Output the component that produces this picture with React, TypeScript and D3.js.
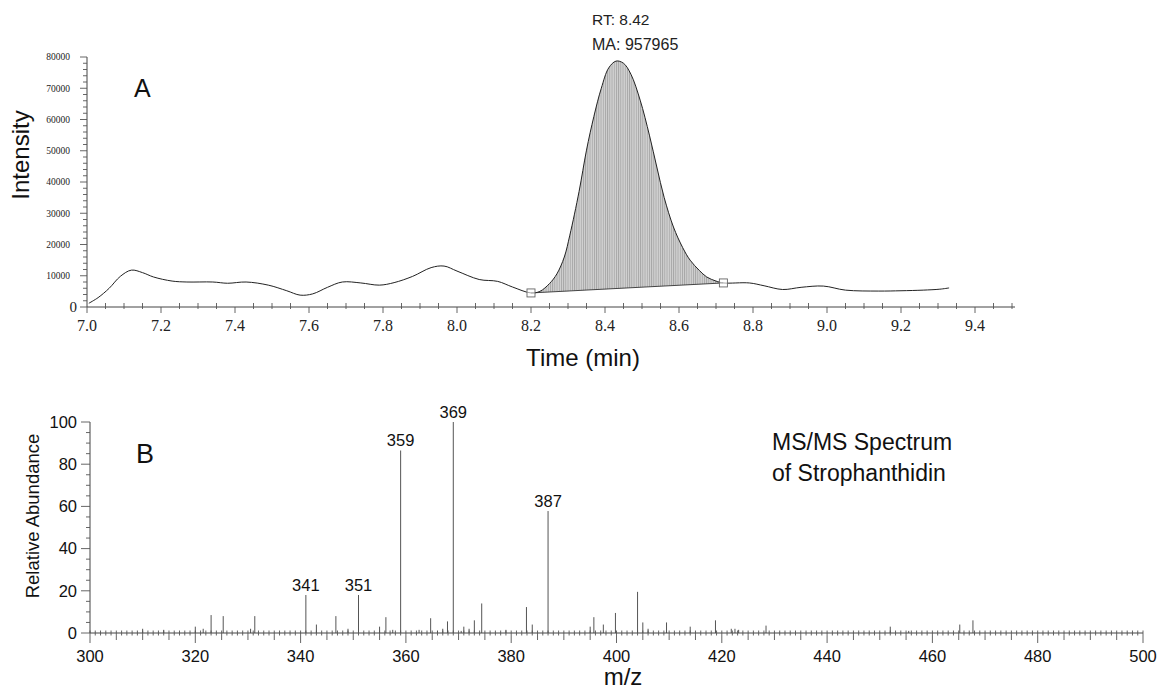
import React from 'react';
import * as d3 from 'd3';

// chromatogram (panel A)
const chromTime = [7.005, 7.03, 7.06, 7.09, 7.12, 7.15, 7.18, 7.23, 7.27, 7.34, 7.38, 7.43, 7.49, 7.54, 7.576, 7.61, 7.65, 7.69, 7.74, 7.79, 7.83, 7.88, 7.93, 7.965, 8.0, 8.06, 8.11, 8.15, 8.2, 8.224, 8.25, 8.27, 8.29, 8.305, 8.33, 8.35, 8.37, 8.39, 8.41, 8.43, 8.45, 8.47, 8.495, 8.52, 8.54, 8.56, 8.585, 8.61, 8.63, 8.655, 8.675, 8.7, 8.72, 8.79, 8.83, 8.88, 8.93, 8.99, 9.05, 9.14, 9.2, 9.26, 9.305, 9.33];
const chromIntensity = [1200, 3000, 6000, 9800, 11800, 11000, 9600, 8300, 8000, 8000, 7600, 8000, 7000, 5200, 3800, 4200, 6300, 8000, 7700, 7000, 7800, 9800, 12600, 13100, 11500, 8800, 8200, 6400, 4500, 5000, 7500, 10600, 16000, 23000, 37000, 50200, 61000, 70000, 76500, 78700, 78000, 74500, 66200, 55000, 44800, 35000, 25600, 19000, 15000, 11700, 9600, 8300, 7700, 7700, 6800, 5600, 6300, 6700, 5400, 5100, 5200, 5400, 5700, 6100];
const peakStart = { t: 8.2, v: 4500 };
const peakEnd = { t: 8.72, v: 7700 };
const timeTicks = [7.0, 7.2, 7.4, 7.6, 7.8, 8.0, 8.2, 8.4, 8.6, 8.8, 9.0, 9.2, 9.4];
const intensityTicks = [0, 10000, 20000, 30000, 40000, 50000, 60000, 70000, 80000];

// MS/MS spectrum (panel B)
const mz = [310, 314, 320, 321.5, 323, 325.3, 330.5, 331.3, 341, 343, 346.7, 349, 351, 355, 356.2, 357.5, 359, 362.5, 364.7, 366, 367, 367.9, 369, 370.5, 371, 372, 373, 374.4, 379, 382.9, 384, 387, 395, 395.7, 397.5, 399.8, 404, 405, 406, 409.5, 414, 418.8, 421.8, 422.5, 423.2, 428.4, 452, 455.5, 465.2, 467.7];
const abundance = [2, 1.5, 3, 2, 8.5, 8, 2, 8, 18, 4, 8, 2, 18, 3, 7.5, 1.5, 86.5, 1.5, 7, 1, 2, 5.5, 100, 1, 3, 2, 6, 14, 1.5, 12.3, 4, 57.8, 3, 7.5, 4, 9.5, 19.5, 5, 2, 5, 3, 6, 2, 2, 1.5, 3.5, 3, 1, 4, 6];
const labelledPeaks = [341, 351, 359, 369, 387];
const mzTicks = [300, 320, 340, 360, 380, 400, 420, 440, 460, 480, 500];
const abundanceTicks = [0, 20, 40, 60, 80, 100];

const SANS = 'Arial, "Liberation Sans", Helvetica, sans-serif';
const SERIF = '"Times New Roman", "Liberation Serif", serif';

export default function App() {
  // ---- panel A scales
  const xA = d3.scaleLinear().domain([7.0, 9.5]).range([87, 1012]);
  const yA = d3.scaleLinear().domain([0, 80000]).range([307, 57]);
  const chrom = chromTime.map((t, i) => ({ t, v: chromIntensity[i] }));
  const curve = d3.curveCatmullRom.alpha(0.5);
  const line = d3.line<{ t: number; v: number }>().x(d => xA(d.t)).y(d => yA(d.v)).curve(curve);
  const baseAt = d3.scaleLinear().domain([peakStart.t, peakEnd.t]).range([peakStart.v, peakEnd.v]);
  const peakPts = chrom.filter(d => d.t >= peakStart.t && d.t <= peakEnd.t);
  const area = d3.area<{ t: number; v: number }>()
    .x(d => xA(d.t)).y1(d => yA(d.v)).y0(d => yA(baseAt(d.t))).curve(curve);
  const minorT = d3.range(7.0, 9.5001, 0.05);
  const minorI = d3.range(0, 80001, 2000);

  // ---- panel B scales
  const xB = d3.scaleLinear().domain([300, 500]).range([90, 1143]);
  const yB = d3.scaleLinear().domain([0, 100]).range([633, 422]);
  const mzMinor = d3.range(300, 501, 1);
  const abMinor = d3.range(0, 101, 5);

  return (
    <svg width={1159} height={692} style={{ position: 'absolute', left: 0, top: 0, background: '#fff' }}>
      <defs>
        <pattern id="hatch" width={2.2} height={4} patternUnits="userSpaceOnUse">
          <rect width={2.2} height={4} fill="#d2d2d2" />
          <line x1={0.5} y1={0} x2={0.5} y2={4} stroke="#8e8e8e" strokeWidth={0.7} />
        </pattern>
      </defs>

      {/* ================= Panel A ================= */}
      <g>
        <path d={area(peakPts) || ''} fill="url(#hatch)" stroke="none" />
        <line x1={xA(peakStart.t)} y1={yA(peakStart.v)} x2={xA(peakEnd.t)} y2={yA(peakEnd.v)} stroke="#333" strokeWidth={0.9} />
        <path d={line(chrom) || ''} fill="none" stroke="#222" strokeWidth={1} />
        {[peakStart, peakEnd].map((p, i) => (
          <rect key={i} x={xA(p.t) - 4} y={yA(p.v) - 4} width={8} height={8} fill="#fff" fillOpacity={0.6} stroke="#666" strokeWidth={0.9} />
        ))}

        {/* axes */}
        <line x1={87} y1={yA(0)} x2={1015} y2={yA(0)} stroke="#444" />
        <line x1={87} y1={yA(0)} x2={87} y2={yA(80000)} stroke="#444" />
        {minorT.map((t, i) => {
          const major = i % 4 === 0;
          return (
            <line key={'tA' + i} x1={xA(t)} x2={xA(t)} y1={major ? yA(0) : yA(0) - 4} y2={major ? yA(0) + 6 : yA(0) + 2} stroke="#555" strokeWidth={0.9} />
          );
        })}
        {timeTicks.map(t => (
          <text key={'lt' + t} x={xA(t)} y={yA(0) + 24} textAnchor="middle" fontFamily={SERIF} fontSize={16} fill="#222">{t.toFixed(1)}</text>
        ))}
        {minorI.map((v, i) => (
          <line key={'iA' + i} x1={87} x2={v % 10000 === 0 ? 80 : 83} y1={yA(v)} y2={yA(v)} stroke="#555" strokeWidth={0.9} />
        ))}
        {intensityTicks.map(v => (
          <text key={'li' + v} x={v === 0 ? 77 : 70} y={yA(v)} dy="0.35em" textAnchor="end" fontFamily={SERIF} fontSize={v === 0 ? 15 : 9.5} fill="#222">{v}</text>
        ))}
        <text x={583} y={366} textAnchor="middle" fontFamily={SANS} fontSize={24} fill="#111">Time (min)</text>
        <text transform="translate(29,155) rotate(-90)" textAnchor="middle" fontFamily={SANS} fontSize={24} fill="#111">Intensity</text>
        <text x={134} y={97} fontFamily={SANS} fontSize={25} fill="#111">A</text>
        <text x={592} y={25} fontFamily={SANS} fontSize={15.5} fill="#222">RT: 8.42</text>
        <text x={592} y={50} fontFamily={SANS} fontSize={16} fill="#222">MA: 957965</text>
      </g>

      {/* ================= Panel B ================= */}
      <g>
        {mz.map((m, i) => (
          <line key={'p' + i} x1={xB(m)} x2={xB(m)} y1={yB(0)} y2={yB(abundance[i])} stroke="#555" strokeWidth={1} />
        ))}
        {labelledPeaks.map(m => {
          const i = mz.indexOf(m);
          return (
            <text key={'pl' + m} x={xB(m)} y={yB(abundance[i]) - 4} textAnchor="middle" fontFamily={SANS} fontSize={16.5} fill="#111">{m}</text>
          );
        })}

        <line x1={xB(300)} y1={yB(0)} x2={xB(500)} y2={yB(0)} stroke="#444" />
        <line x1={xB(300)} y1={yB(0)} x2={xB(300)} y2={yB(100)} stroke="#444" />
        {mzMinor.map(m => {
          const down = m % 20 === 0 ? 10 : m % 5 === 0 ? 7 : 2.5;
          return <line key={'mt' + m} x1={xB(m)} x2={xB(m)} y1={yB(0) - 2.5} y2={yB(0) + down} stroke="#555" strokeWidth={0.9} />;
        })}
        {mzTicks.map(m => (
          <text key={'ml' + m} x={xB(m)} y={yB(0) + 29} textAnchor="middle" fontFamily={SANS} fontSize={16.5} fill="#111">{m}</text>
        ))}
        {abMinor.map(v => (
          <line key={'at' + v} x1={xB(300)} x2={xB(300) - (v % 20 === 0 ? 9 : 4)} y1={yB(v)} y2={yB(v)} stroke="#555" strokeWidth={0.9} />
        ))}
        {abundanceTicks.map(v => (
          <text key={'al' + v} x={77} y={yB(v)} dy="0.35em" textAnchor="end" fontFamily={SANS} fontSize={16.5} fill="#111">{v}</text>
        ))}
        <text transform="translate(39,516) rotate(-90)" textAnchor="middle" fontFamily={SANS} fontSize={18.5} fill="#111">Relative Abundance</text>
        <text x={136} y={463} fontFamily={SANS} fontSize={27} fill="#111">B</text>
        <text x={772} y={450} fontFamily={SANS} fontSize={23} fill="#111">MS/MS Spectrum</text>
        <text x={772} y={481} fontFamily={SANS} fontSize={23} fill="#111">of Strophanthidin</text>
        <text x={623} y={685} textAnchor="middle" fontFamily={SANS} fontSize={24} fill="#111">m/z</text>
      </g>
    </svg>
  );
}
